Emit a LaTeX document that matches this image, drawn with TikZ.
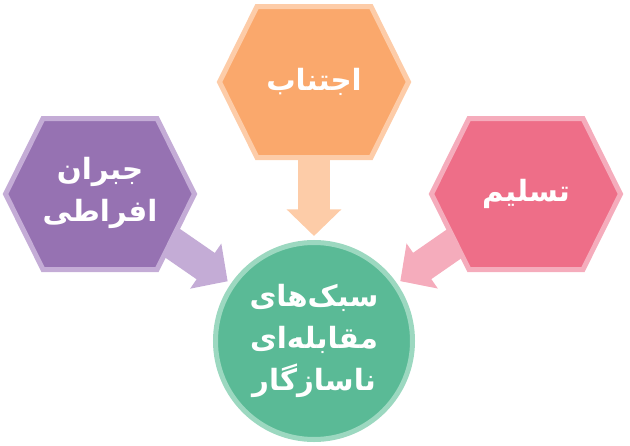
\documentclass[tikz,border=0pt]{standalone}
\usepackage{fontspec}
\newfontfamily\arabicfont[Script=Arabic]{DejaVu Sans}
\TeXXeTstate=1
\usetikzlibrary{arrows.meta,backgrounds}

\definecolor{purplefill}{RGB}{150,114,178}
\definecolor{purpleline}{RGB}{196,172,214}
\definecolor{orangefill}{RGB}{250,168,108}
\definecolor{orangeline}{RGB}{253,204,168}
\definecolor{pinkfill}{RGB}{238,110,136}
\definecolor{pinkline}{RGB}{245,172,188}
\definecolor{greenfill}{RGB}{90,186,150}
\definecolor{greenline}{RGB}{156,216,192}

\tikzset{
  lbl/.style={text=white, align=center, font=\arabicfont\bfseries\fontsize{25}{36}\selectfont},
  arrbase/.style={line width=0.96cm, -{Triangle[width=1.6cm,length=0.8cm]}, shorten >=0.12cm},
}

\begin{document}
\begin{tikzpicture}[x=0.03cm,y=-0.03cm]
\useasboundingbox (0,0) rectangle (630,446);

% hexagons
\draw[fill=orangefill,draw=orangeline,line width=0.15cm] (314,82) ++(-94.5,0) -- ++(37.5,-75.5) -- ++(114,0) -- ++(37.5,75.5) -- ++(-37.5,75.5) -- ++(-114,0) -- cycle;
\draw[fill=purplefill,draw=purpleline,line width=0.15cm] (100,194) ++(-94.5,0) -- ++(37.5,-75.5) -- ++(114,0) -- ++(37.5,75.5) -- ++(-37.5,75.5) -- ++(-114,0) -- cycle;
\draw[fill=pinkfill,draw=pinkline,line width=0.15cm] (526,194) ++(-94.5,0) -- ++(37.5,-75.5) -- ++(114,0) -- ++(37.5,75.5) -- ++(-37.5,75.5) -- ++(-114,0) -- cycle;

\node[lbl] (avoid) at (314,82) {\beginR اجتناب\endR};
\node[lbl] (comp) at (100,193) {\beginR جبران\endR\\ \beginR افراطی\endR};
\node[lbl] (surr) at (526,194) {\beginR تسلیم\endR};

% center circle
\node[lbl, circle, fill=greenfill, draw=greenline, line width=0.15cm, minimum size=5.91cm] (core) at (314,341)
  {\beginR سبک‌های\endR\\ \beginR مقابله‌ای\endR\\ \beginR ناسازگار\endR};

\begin{scope}[on background layer]
\draw[arrbase, draw=orangeline] (avoid) -- (core);
\draw[arrbase, draw=purpleline] (comp) -- (core);
\draw[arrbase, draw=pinkline] (surr) -- (core);
\end{scope}
\end{tikzpicture}
\end{document}
